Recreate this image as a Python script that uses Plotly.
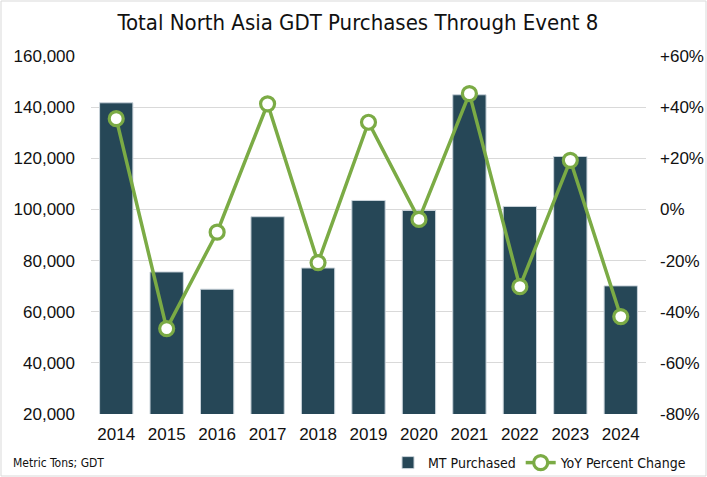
import plotly.graph_objects as go

years = ["2014", "2015", "2016", "2017", "2018", "2019", "2020", "2021", "2022", "2023", "2024"]
mt_purchased = [141700, 75550, 68800, 97150, 77100, 103500, 99600, 144840, 101170, 120700, 70100]
yoy_pct = [35.5, -46.6, -8.9, 41.3, -20.8, 34.1, -3.9, 45.3, -30.2, 19.2, -41.9]

left_ticks = [20000, 40000, 60000, 80000, 100000, 120000, 140000, 160000]
left_text = ["20,000", "40,000", "60,000", "80,000", "100,000", "120,000", "140,000", "160,000"]
right_ticks = [-80, -60, -40, -20, 0, 20, 40, 60]
right_text = ["-80%", "-60%", "-40%", "-20%", "0%", "+20%", "+40%", "+60%"]

BAR = "#264757"
GREEN = "#7BAB45"
FONT = "DejaVu Sans Condensed, Roboto, sans-serif"
TICKFONT = "Liberation Sans, Arial, sans-serif"

fig = go.Figure()
fig.add_trace(go.Bar(
    x=years, y=mt_purchased, name="MT Purchased",
    marker=dict(color=BAR, line=dict(color="#c9d3da", width=1)),
    yaxis="y",
))
fig.add_trace(go.Scatter(
    x=years, y=yoy_pct, name="YoY Percent Change", mode="lines+markers",
    line=dict(color=GREEN, width=3.5),
    marker=dict(symbol="circle", size=14, color="white", line=dict(color=GREEN, width=3.2)),
    yaxis="y2",
))

L, R, T, B = 91, 61, 56, 63
W, H = 707, 477
pw, ph = W - L - R, H - T - B

fig.update_layout(
    width=W, height=H,
    margin=dict(l=L, r=R, t=T, b=B, autoexpand=False),
    paper_bgcolor="white", plot_bgcolor="white",
    bargap=0.34,
    showlegend=True,
    hovermode=False,
    title=dict(text="Total North Asia GDT Purchases Through Event 8",
               x=358 / W, xanchor="center", y=1 - 22 / H, yanchor="middle",
               font=dict(family=FONT, size=22, color="#111111")),
    xaxis=dict(type="category", range=[-0.5, 10.5], showgrid=False, showline=False, ticks="",
               tickfont=dict(family=TICKFONT, size=17, color="#111111"),
               ticklabelstandoff=8),
    yaxis=dict(range=[20000, 160000], tickvals=left_ticks, ticktext=left_text,
               showgrid=True, gridcolor="#d9d9d9", gridwidth=1, zeroline=False,
               showline=False, ticks="",
               tickfont=dict(family=TICKFONT, size=17, color="#111111"),
               ticklabelstandoff=15),
    yaxis2=dict(range=[-80, 60], tickvals=right_ticks, ticktext=right_text,
                overlaying="y", side="right", showgrid=False, zeroline=False,
                showline=False, ticks="",
                tickfont=dict(family=TICKFONT, size=17, color="#111111"),
                ticklabelstandoff=13),
    legend=dict(orientation="h", xref="container", yref="container",
                x=692 / W, xanchor="right", y=1 - 463 / H, yanchor="middle",
                font=dict(family=FONT, size=14, color="#111111"),
                bgcolor="rgba(0,0,0,0)", itemwidth=30, traceorder="normal"),
    annotations=[dict(text="Metric Tons; GDT", xref="paper", yref="paper",
                      x=(11 - L) / pw, xanchor="left", y=(414 - 463) / ph, yanchor="middle",
                      showarrow=False, font=dict(family=FONT, size=12, color="#111111"))],
    shapes=[dict(type="rect", xref="paper", yref="paper",
                 x0=(1 - L) / pw, x1=(W - 1 - L) / pw,
                 y0=-(H - T - 1 - ph) / ph, y1=1 + (T - 1) / ph,
                 line=dict(color="#d9d9d9", width=1), layer="below")],
)
fig.write_html("out.html", config={"displayModeBar": False},
               post_script="document.body.style.margin='0px';")
